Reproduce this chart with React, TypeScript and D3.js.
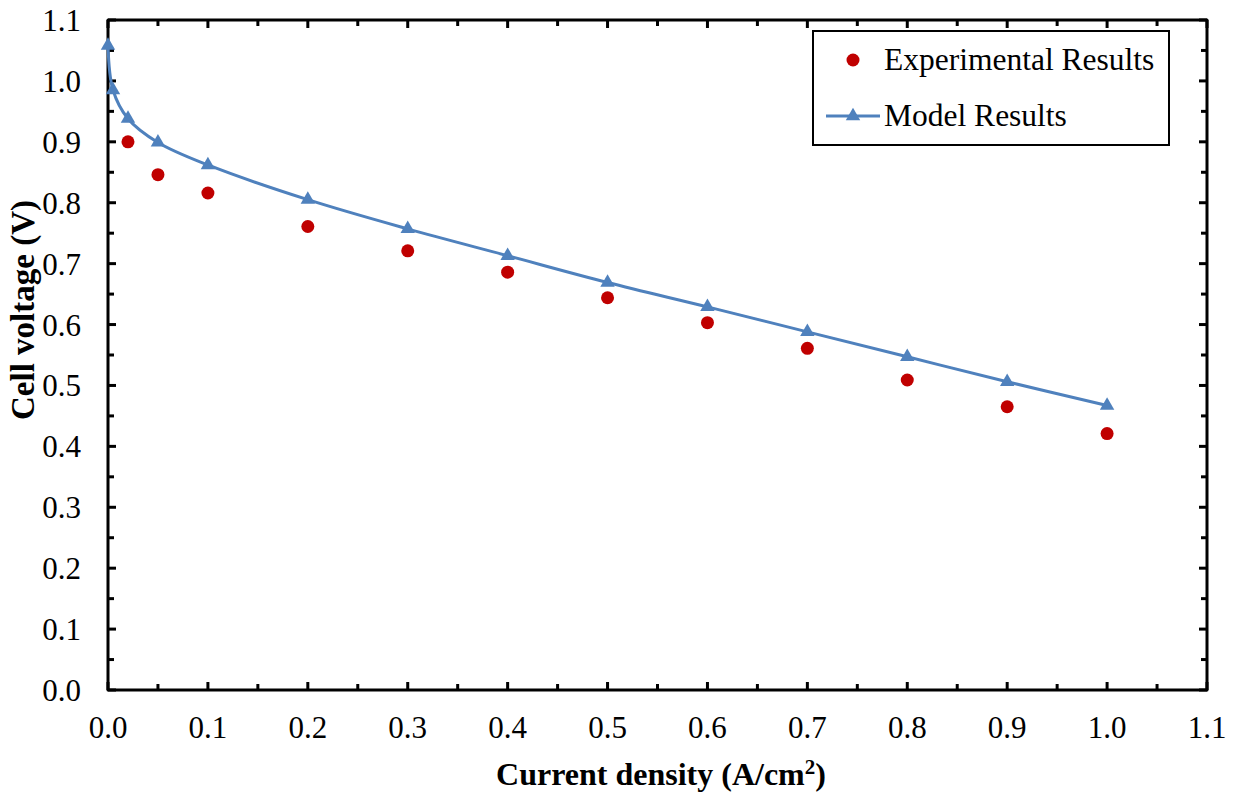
import React from "react";
import * as d3 from "d3";

const modelX = [0, 0.005, 0.02, 0.05, 0.1, 0.2, 0.3, 0.4, 0.5, 0.6, 0.7, 0.8, 0.9, 1.0];
const modelY = [1.058, 0.985, 0.938, 0.899, 0.862, 0.805, 0.757, 0.713, 0.669, 0.629, 0.588, 0.547, 0.506, 0.467];
const expX = [0.02, 0.05, 0.1, 0.2, 0.3, 0.4, 0.5, 0.6, 0.7, 0.8, 0.9, 1.0];
const expY = [0.9, 0.846, 0.816, 0.761, 0.721, 0.686, 0.644, 0.603, 0.561, 0.509, 0.465, 0.421];
const majorTicks = [0, 0.1, 0.2, 0.3, 0.4, 0.5, 0.6, 0.7, 0.8, 0.9, 1.0, 1.1];
const minorTicks = [0.05, 0.15, 0.25, 0.35, 0.45, 0.55, 0.65, 0.75, 0.85, 0.95, 1.05];

const W = 1235, H = 792;
const L = 108, T = 20, R = 1207, B = 690;
const FONT = "'Liberation Serif', 'Times New Roman', serif";
const BLUE = "#4F81BD";
const RED = "#C00000";

export default function App() {
  const x = d3.scaleLinear().domain([0, 1.1]).range([L, R]);
  const y = d3.scaleLinear().domain([0, 1.1]).range([B, T]);
  const line = d3.line<number>().x((_, i) => x(modelX[i])).y((_, i) => y(modelY[i])).curve(d3.curveCatmullRom.alpha(0.5));
  const tri = d3.symbol().type(d3.symbolTriangle).size(90)();
  const fmt = d3.format(".1f");
  return (
    <svg width={W} height={H} style={{ position: "absolute", left: 0, top: 0, background: "#fff" }}>
      <rect x={0} y={0} width={W} height={H} fill="#fff" />
      {majorTicks.map((t) => (
        <g key={"M" + t}>
          <line x1={x(t)} x2={x(t)} y1={B} y2={B - 8} stroke="#000" strokeWidth={3} />
          <line x1={x(t)} x2={x(t)} y1={T} y2={T + 8} stroke="#000" strokeWidth={3} />
          <line x1={L} x2={L + 8} y1={y(t)} y2={y(t)} stroke="#000" strokeWidth={3} />
          <line x1={R} x2={R - 8} y1={y(t)} y2={y(t)} stroke="#000" strokeWidth={3} />
          <text x={x(t)} y={B + 48} textAnchor="middle" fontFamily={FONT} fontSize={31}>{fmt(t)}</text>
          <text x={81} y={y(t) + 11} textAnchor="end" fontFamily={FONT} fontSize={31}>{fmt(t)}</text>
        </g>
      ))}
      {minorTicks.map((t) => (
        <g key={"m" + t}>
          <line x1={x(t)} x2={x(t)} y1={B} y2={B - 6} stroke="#000" strokeWidth={3} />
          <line x1={x(t)} x2={x(t)} y1={T} y2={T + 6} stroke="#000" strokeWidth={3} />
          <line x1={L} x2={L + 6} y1={y(t)} y2={y(t)} stroke="#000" strokeWidth={3} />
          <line x1={R} x2={R - 6} y1={y(t)} y2={y(t)} stroke="#000" strokeWidth={3} />
        </g>
      ))}
      <rect x={L} y={T} width={R - L} height={B - T} fill="none" stroke="#000" strokeWidth={3} strokeLinejoin="round" />
      <path d={line(modelY) || ""} fill="none" stroke={BLUE} strokeWidth={3} />
      {modelY.map((v, i) => (
        <path key={"t" + i} d={tri || ""} transform={`translate(${x(modelX[i])},${y(v)})`} fill={BLUE} />
      ))}
      {expY.map((v, i) => (
        <circle key={"c" + i} cx={x(expX[i])} cy={y(v)} r={6.5} fill={RED} />
      ))}
      <rect x={813} y={31} width={356} height={114} fill="#fff" stroke="#000" strokeWidth={2} />
      <circle cx={853} cy={60} r={6.5} fill={RED} />
      <text x={884} y={70} fontFamily={FONT} fontSize={31.5}>Experimental Results</text>
      <line x1={826} x2={880} y1={116} y2={116} stroke={BLUE} strokeWidth={3} />
      <path d={tri || ""} transform="translate(853,116)" fill={BLUE} />
      <text x={884} y={126} fontFamily={FONT} fontSize={31.5}>Model Results</text>
      <text x={661} y={785} textAnchor="middle" fontFamily={FONT} fontSize={32} fontWeight="bold">
        Current density (A/cm<tspan dy={-11} fontSize={21}>2</tspan><tspan dy={11}>)</tspan>
      </text>
      <text transform={`translate(34,310) rotate(-90)`} textAnchor="middle" fontFamily={FONT} fontSize={33} fontWeight="bold">
        Cell voltage (V)
      </text>
    </svg>
  );
}
